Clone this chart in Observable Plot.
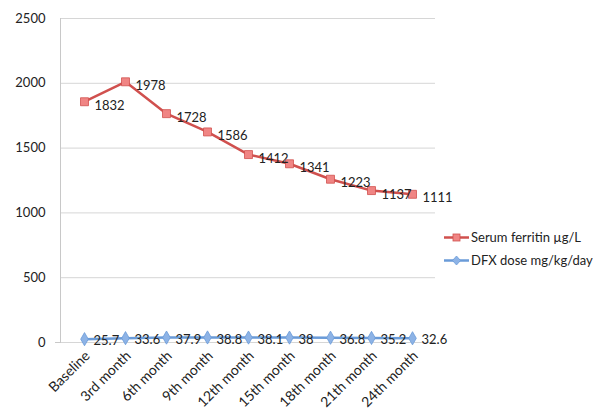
<!DOCTYPE html>
<html><head><meta charset="utf-8">
<script src="https://cdn.jsdelivr.net/npm/d3@7"></script>
<script src="https://cdn.jsdelivr.net/npm/@observablehq/plot@0.6"></script>
<style>
body{margin:0;background:#fff;font-family:Lato,"Open Sans",sans-serif;}
#wrap{position:relative;width:593px;height:408px;}
.leg{position:absolute;left:444px;font-size:13px;color:#222;display:flex;align-items:center;white-space:nowrap}
.leg svg{margin-right:2px}
</style></head>
<body><div id="wrap"></div>
<script>
const categories = ["Baseline","3rd month","6th month","9th month","12th month","15th month","18th month","21th month","24th month"];
const ferritin = [1832,1978,1728,1586,1412,1341,1223,1137,1111];
const dfx = [25.7,33.6,37.9,38.8,38.1,38,36.8,35.2,32.6];
const yTicks = [0,500,1000,1500,2000,2500];

// Stacked line chart: ferritin is drawn on top of the DFX series
const fData = categories.map((c,i)=>({c, v: ferritin[i], y: ferritin[i] + dfx[i]}));
const dData = categories.map((c,i)=>({c, v: dfx[i], y: dfx[i]}));
const red = "#d0504e", redFill = "#f08584";
const blue = "#6a9bd8", blueFill = "#8db3e6";

const chart = Plot.plot({
  width: 593, height: 408,
  marginLeft: 60, marginRight: 158, marginTop: 18, marginBottom: 66,
  style: {fontFamily: "Lato, 'Open Sans', sans-serif", fontSize: "13px", color: "#222"},
  x: {type: "point", domain: categories, padding: 0.5, label: null},
  y: {domain: [0,2500], ticks: yTicks, label: null},
  marks: [
    Plot.gridY(yTicks, {stroke: "#d6d6d6", strokeOpacity: 1}),
    Plot.frame({anchor: "left", stroke: "#c8c8c8"}),
    Plot.axisY([0], {tickSize: 5, text: null, stroke: "#c8c8c8"}),
    Plot.axisY(yTicks, {tickSize: 0, tickPadding: 15, fontSize: 13, tickFormat: d => String(d)}),
    Plot.axisX({tickSize: 0, tickRotate: -45, tickPadding: 11, dx: 3, fontSize: 14}),
    Plot.line(dData, {x: "c", y: "y", stroke: blue, strokeWidth: 2.5}),
    Plot.dot(dData, {x: "c", y: "y", symbol: "diamond", r: 4, fill: blueFill, stroke: blue, strokeWidth: 0.8}),
    Plot.text(dData, {x: "c", y: "y", text: d => String(d.v), textAnchor: "start", dx: 9, dy: 2, fontSize: 13, fill: "#222"}),
    Plot.line(fData, {x: "c", y: "y", stroke: red, strokeWidth: 2.5}),
    Plot.dot(fData, {x: "c", y: "y", symbol: "square", r: 4.5, fill: redFill, stroke: red, strokeWidth: 0.8}),
    Plot.text(fData, {x: "c", y: "y", text: d => String(d.v), textAnchor: "start", dx: 10, dy: 4, fontSize: 13, fill: "#222"})
  ]
});
const wrap = document.getElementById("wrap");
wrap.appendChild(chart);
const legend = [
  {label: "Serum ferritin µg/L", color: red, fill: redFill, sym: "sq", top: 229},
  {label: "DFX dose mg/kg/day", color: blue, fill: blueFill, sym: "dm", top: 252}
];
legend.forEach(l => {
  const d = document.createElement("div");
  d.className = "leg"; d.style.top = l.top + "px";
  const shape = l.sym === "sq"
    ? `<rect x="9" y="3" width="7" height="7" fill="${l.fill}" stroke="${l.color}" stroke-width="0.8"/>`
    : `<path d="M12.5 2 L16.5 6.5 L12.5 11 L8.5 6.5 Z" fill="${l.fill}" stroke="${l.color}" stroke-width="0.8"/>`;
  d.innerHTML = `<svg width="25" height="13"><line x1="0" y1="6.5" x2="25" y2="6.5" stroke="${l.color}" stroke-width="2.5"/>${shape}</svg><span>${l.label}</span>`;
  wrap.appendChild(d);
});
</script></body></html>
